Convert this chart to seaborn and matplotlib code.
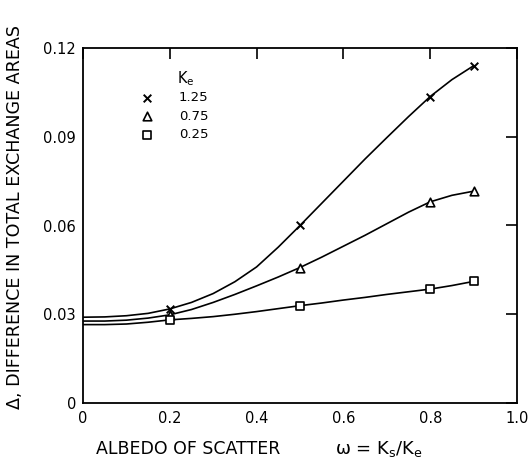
import matplotlib
matplotlib.use("Agg")
import matplotlib.pyplot as plt
import seaborn as sns
import pandas as pd

# ---- data ----
ke_labels = ["1.25", "0.75", "0.25"]
marker_x = [0.2, 0.5, 0.8, 0.9]
marker_y_125 = [0.0318, 0.0600, 0.1036, 0.1140]
marker_y_075 = [0.0298, 0.0458, 0.0680, 0.0716]
marker_y_025 = [0.0281, 0.0329, 0.0385, 0.0411]

curve_x = [0.0, 0.05, 0.1, 0.15, 0.2, 0.25, 0.3, 0.35, 0.4, 0.45, 0.5,
           0.55, 0.6, 0.65, 0.7, 0.75, 0.8, 0.85, 0.9]
curve_y_125 = [0.0290, 0.0291, 0.0295, 0.0303, 0.0318, 0.0340, 0.0370, 0.0410,
               0.0460, 0.0527, 0.0600, 0.0675, 0.0750, 0.0825, 0.0897, 0.0968,
               0.1036, 0.1093, 0.1140]
curve_y_075 = [0.0277, 0.0277, 0.0280, 0.0287, 0.0298, 0.0316, 0.0340, 0.0367,
               0.0396, 0.0426, 0.0458, 0.0493, 0.0530, 0.0567, 0.0606, 0.0645,
               0.0680, 0.0702, 0.0716]
curve_y_025 = [0.0265, 0.0265, 0.0267, 0.0273, 0.0281, 0.0286, 0.0292, 0.0300,
               0.0309, 0.0319, 0.0329, 0.0338, 0.0348, 0.0357, 0.0367, 0.0376,
               0.0385, 0.0397, 0.0411]

x_ticks = [0, 0.2, 0.4, 0.6, 0.8, 1.0]
x_ticklabels = ["0", "0.2", "0.4", "0.6", "0.8", "1.0"]
y_ticks = [0, 0.03, 0.06, 0.09, 0.12]
y_ticklabels = ["0", "0.03", "0.06", "0.09", "0.12"]

# ---- tables ----
n = len(curve_x)
curves = pd.DataFrame({
    "x": curve_x * 3,
    "y": curve_y_125 + curve_y_075 + curve_y_025,
    "ke": [ke_labels[0]] * n + [ke_labels[1]] * n + [ke_labels[2]] * n,
})
points = pd.DataFrame({
    "x": marker_x * 3,
    "y": marker_y_125 + marker_y_075 + marker_y_025,
    "ke": [ke_labels[0]] * 4 + [ke_labels[1]] * 4 + [ke_labels[2]] * 4,
})

sns.set_style("white")
plt.rcParams["font.family"] = ["DejaVu Sans"]
plt.rcParams["mathtext.default"] = "regular"
plt.rcParams["text.color"] = "black"

fig = plt.figure(figsize=(5.30, 4.69), dpi=100)
ax = fig.add_axes([83 / 530, 1 - 403 / 469, 434 / 530, 355 / 469])

sns.lineplot(data=curves, x="x", y="y", units="ke", estimator=None,
             color="black", linewidth=1.2, ax=ax, legend=False)

marker_map = {"1.25": "x", "0.75": "^", "0.25": "s"}
for ke in ke_labels:
    sub = points[points["ke"] == ke]
    m = marker_map[ke]
    if m == "x":
        ax.scatter(sub["x"], sub["y"], marker="x", s=30, color="black",
                   linewidths=1.4, zorder=3, label=ke)
    else:
        ax.scatter(sub["x"], sub["y"], marker=m, s=38, facecolor="white",
                   edgecolor="black", linewidths=1.2, zorder=3, label=ke)

ax.set_xlim(0, 1.0)
ax.set_ylim(0, 0.12)
ax.set_xticks(x_ticks)
ax.set_xticklabels(x_ticklabels)
ax.set_yticks(y_ticks)
ax.set_yticklabels(y_ticklabels)
ax.tick_params(direction="in", length=8, width=1.2, top=True, right=True,
               labelsize=10.5, colors="black")
ax.tick_params(axis="x", pad=6)
ax.tick_params(axis="y", pad=5)
ax.set_xlabel("")
ax.set_ylabel("")
for sp in ax.spines.values():
    sp.set_visible(True)
    sp.set_color("black")
    sp.set_linewidth(1.3)

leg = ax.legend(loc="upper left", bbox_to_anchor=(0.105, 0.893),
                frameon=False, fontsize=9.5,
                handletextpad=1.4, labelspacing=0.42, borderaxespad=0)
ax.text(0.217, 0.915, "K$_{e}$", transform=ax.transAxes, fontsize=10.5,
        ha="left", va="center")

fig.text(96 / 530, 1 - 449 / 469, "ALBEDO OF SCATTER", fontsize=12.5,
         ha="left", va="center")
fig.text(335 / 530, 1 - 449 / 469, "ω = K$_{s}$/K$_{e}$", fontsize=13,
         ha="left", va="center")
fig.text(15 / 530, 1 - 217 / 469, "Δ, DIFFERENCE IN TOTAL EXCHANGE AREAS",
         fontsize=12.6, rotation=90, ha="center", va="center")

fig.savefig("out.png", dpi=100, facecolor="white")
